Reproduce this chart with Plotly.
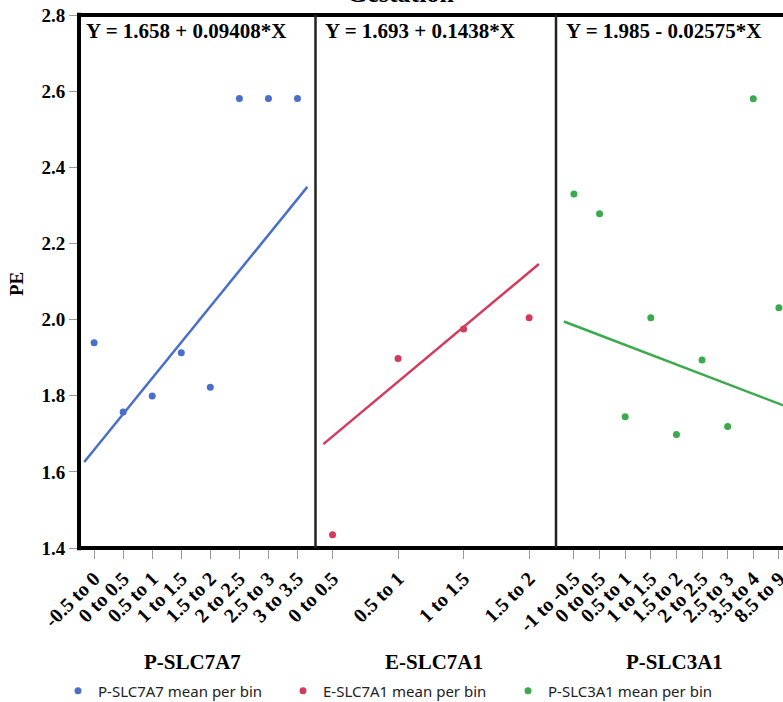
import plotly.graph_objects as go

# ---------------- data ----------------
cats_p_slc7a7 = ["-0.5 to 0", "0 to 0.5", "0.5 to 1", "1 to 1.5", "1.5 to 2",
                 "2 to 2.5", "2.5 to 3", "3 to 3.5"]
pe_p_slc7a7 = [1.939, 1.757, 1.799, 1.913, 1.822, 2.581, 2.581, 2.581]

cats_e_slc7a1 = ["0 to 0.5", "0.5 to 1", "1 to 1.5", "1.5 to 2"]
pe_e_slc7a1 = [1.435, 1.898, 1.975, 2.005]

cats_p_slc3a1 = ["-1 to -0.5", "0 to 0.5", "0.5 to 1", "1 to 1.5", "1.5 to 2",
                 "2 to 2.5", "2.5 to 3", "3.5 to 4", "8.5 to 9"]
pe_p_slc3a1 = [2.330, 2.278, 1.745, 2.005, 1.698, 1.894, 1.719, 2.580, 2.031]

# fit equations (intercept, slope) and their drawn extent in bin index units
fit_p_slc7a7 = (1.658, 0.09408)
fit_e_slc7a1 = (1.693, 0.1438)
fit_p_slc3a1 = (1.985, -0.02575)
fit_extent_p_slc7a7 = (-0.34, 7.34)
fit_extent_e_slc7a1 = (-0.14, 3.15)
fit_extent_p_slc3a1 = (-0.39, 8.39)

panel_names = ["P-SLC7A7", "E-SLC7A1", "P-SLC3A1"]
equation_texts = ["Y = 1.658 + 0.09408*X", "Y = 1.693 + 0.1438*X", "Y = 1.985 - 0.02575*X"]
y_ticks = [1.4, 1.6, 1.8, 2.0, 2.2, 2.4, 2.6, 2.8]

# ---------------- style ----------------
colors = ["#4A6FC8", "#D23B5E", "#3BAA4C"]
SERIF = "Liberation Serif"
W, H = 783, 702
ML, MT, MB = 79, 15, 154
PW = W - ML
PH = H - MT - MB

def px_x(p):                 # page pixel -> paper fraction
    return (p - ML) / PW

def px_y(p):
    return (H - MB - p) / PH

d1 = px_x(315.5)
d2 = px_x(556)
domains = [[0, d1], [d1, d2], [d2, 1]]
ranges = [[-0.52, 7.62], [-0.26, 3.41], [-0.70, 8.16]]

fig = go.Figure()

panels = [
    (cats_p_slc7a7, pe_p_slc7a7, fit_p_slc7a7, fit_extent_p_slc7a7),
    (cats_e_slc7a1, pe_e_slc7a1, fit_e_slc7a1, fit_extent_e_slc7a1),
    (cats_p_slc3a1, pe_p_slc3a1, fit_p_slc3a1, fit_extent_p_slc3a1),
]

for i, (cats, vals, fit, ext) in enumerate(panels):
    xa = "x" if i == 0 else f"x{i+1}"
    xs = list(range(len(cats)))
    fig.add_trace(go.Scatter(
        x=xs, y=vals, mode="markers", xaxis=xa, yaxis="y",
        marker=dict(color=colors[i], size=7),
        name=f"{panel_names[i]} mean per bin", showlegend=True,
        cliponaxis=False,
    ))
    fx = list(ext)
    fy = [fit[0] + fit[1] * v for v in fx]
    fig.add_trace(go.Scatter(
        x=fx, y=fy, mode="lines", xaxis=xa, yaxis="y",
        line=dict(color=colors[i], width=2.5),
        showlegend=False, hoverinfo="skip",
    ))

tickfont = dict(family=SERIF, size=20, color="black", weight="bold")
layout_axes = {}
for i, cats in enumerate([cats_p_slc7a7, cats_e_slc7a1, cats_p_slc3a1]):
    key = "xaxis" if i == 0 else f"xaxis{i+1}"
    layout_axes[key] = dict(
        domain=domains[i], range=ranges[i], anchor="y",
        tickmode="array", tickvals=list(range(len(cats))), ticktext=cats,
        tickangle=-45, ticks="outside", ticklen=10, tickcolor="#999",
        tickwidth=1, showgrid=False, zeroline=False, showline=False,
        tickfont=tickfont, automargin=False, ticklabeloverflow="allow",
    )

fig.update_layout(
    **layout_axes,
    yaxis=dict(
        range=[1.4, 2.8], tickmode="array", tickvals=y_ticks,
        ticktext=[f"{v:.1f}" for v in y_ticks], anchor="x",
        ticks="outside", ticklen=9, tickcolor="#999", tickwidth=1,
        showgrid=False, zeroline=False, showline=False,
        tickfont=dict(family=SERIF, size=19, color="black", weight="bold"),
        automargin=False, ticklabeloverflow="allow",
    ),
    width=W, height=H, autosize=False,
    margin=dict(l=ML, r=0, t=MT, b=MB, pad=0, autoexpand=False),
    paper_bgcolor="white", plot_bgcolor="white",
    showlegend=True,
    legend=dict(
        orientation="h", x=px_x(58), xanchor="left", y=px_y(691), yanchor="middle",
        font=dict(family="Noto Sans", size=15, color="#222"),
        entrywidth=180, entrywidthmode="pixels", bgcolor="rgba(0,0,0,0)",
    ),
)

# borders
shapes = [
    dict(type="line", xref="paper", yref="paper", x0=0, x1=1.05, y0=1, y1=1,
         line=dict(color="black", width=4)),
    dict(type="line", xref="paper", yref="paper", x0=0, x1=1.05, y0=0, y1=0,
         line=dict(color="black", width=4)),
    dict(type="line", xref="paper", yref="paper", x0=0, x1=0, y0=-0.004, y1=1.004,
         line=dict(color="black", width=4)),
    dict(type="line", xref="paper", yref="paper", x0=d1, x1=d1, y0=0, y1=1,
         line=dict(color="#222", width=2.5)),
    dict(type="line", xref="paper", yref="paper", x0=d2, x1=d2, y0=0, y1=1,
         line=dict(color="#222", width=2.5)),
]
fig.update_layout(shapes=shapes)

ann = []
eq_x = [84, 323, 564]
for i in range(3):
    ann.append(dict(
        text=equation_texts[i], xref="paper", yref="paper",
        x=px_x(eq_x[i]), y=px_y(31), xanchor="left", yanchor="middle",
        showarrow=False, font=dict(family=SERIF, size=21, color="black", weight="bold"),
    ))
title_x = [192, 434, 674]
for i in range(3):
    ann.append(dict(
        text=panel_names[i], xref="paper", yref="paper",
        x=px_x(title_x[i]), y=px_y(662), xanchor="center", yanchor="middle",
        showarrow=False, font=dict(family=SERIF, size=21, color="black", weight="bold"),
    ))
ann.append(dict(
    text="PE", xref="paper", yref="paper", x=px_x(16), y=px_y(284),
    xanchor="center", yanchor="middle", textangle=-90, showarrow=False,
    font=dict(family=SERIF, size=19, color="black", weight="bold"),
))
ann.append(dict(
    text="Gestation", xref="paper", yref="paper", x=px_x(400), y=px_y(9.5),
    xanchor="center", yanchor="bottom", showarrow=False,
    font=dict(family=SERIF, size=26, color="black", weight="bold"),
))
fig.update_layout(annotations=ann)

fig.write_html("out.html", config={"displayModeBar": False},
               post_script="document.body.style.margin='0';")
